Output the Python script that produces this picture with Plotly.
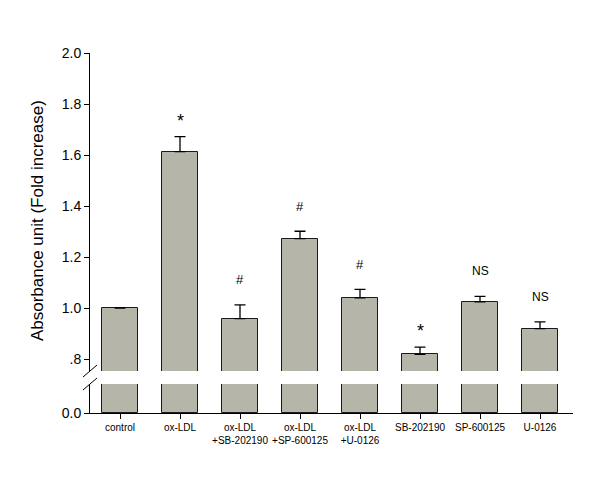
import plotly.graph_objects as go

categories = ["control", "ox-LDL", "ox-LDL<br>+SB-202190", "ox-LDL<br>+SP-600125",
              "ox-LDL<br>+U-0126", "SB-202190", "SP-600125", "U-0126"]
values = [1.0, 1.613, 0.958, 1.272, 1.040, 0.818, 1.024, 0.919]
errors = [0.0, 0.059, 0.054, 0.029, 0.033, 0.029, 0.022, 0.027]
marks = ["", "*", "#", "#", "#", "*", "NS", "NS"]
upper_ticks = [0.8, 1.0, 1.2, 1.4, 1.6, 1.8, 2.0]
upper_ticktext = [".8", "1.0", "1.2", "1.4", "1.6", "1.8", "2.0"]
y_title = "Absorbance unit (Fold increase)"

FONT = "Liberation Sans, Arial, sans-serif"
BAR_COLOR = "rgb(181,181,169)"
x = list(range(len(categories)))

fig = go.Figure()
# upper segment
fig.add_trace(go.Bar(
    x=x, y=values, xaxis="x", yaxis="y2", width=0.61,
    marker=dict(color=BAR_COLOR, line=dict(color="#1a1a1a", width=1)),
    error_y=dict(type="data", symmetric=False,
                 array=[e if e > 0 else None for e in errors],
                 arrayminus=[0 if e > 0 else None for e in errors], color="black",
                 thickness=1.3, width=5.5, visible=True),
    showlegend=False, hoverinfo="skip"))
# lower segment
fig.add_trace(go.Bar(
    x=x, y=values, xaxis="x", yaxis="y", width=0.61,
    marker=dict(color=BAR_COLOR, line=dict(color="#1a1a1a", width=1)),
    showlegend=False, hoverinfo="skip"))

lower_dom = [0, 29 / 360]
upper_dom = [42 / 360, 1]

annotations = []
for xi, v, e, m in zip(x, values, errors, marks):
    if not m:
        continue
    if m == "*":
        annotations.append(dict(x=xi, y=v + e, xref="x", yref="y2", text=m,
                                showarrow=False, yanchor="middle", yshift=16,
                                font=dict(family=FONT, size=18, color="black")))
    else:
        annotations.append(dict(x=xi, y=v + e, xref="x", yref="y2", text=m,
                                showarrow=False, yanchor="middle", yshift=25,
                                font=dict(family=FONT, size=12 if m == "NS" else 13,
                                          color="black")))

annotations.append(dict(x=-53 / 483, y=0.533, xref="paper", yref="paper",
                        text=y_title, textangle=-90, showarrow=False,
                        xanchor="center", yanchor="middle",
                        font=dict(family=FONT, size=17, color="black")))

shapes = []
for edge in (upper_dom[0], lower_dom[1]):
    shapes.append(dict(type="line", xref="paper", yref="paper",
                       xsizemode="pixel", ysizemode="pixel",
                       xanchor=0, yanchor=edge, x0=-7, x1=7, y0=-6, y1=6,
                       line=dict(color="black", width=1)))

fig.update_layout(
    width=592, height=485,
    margin=dict(l=82, r=27, t=45, b=80),
    paper_bgcolor="white", plot_bgcolor="white",
    font=dict(family=FONT, color="black"),
    bargap=0,
    xaxis=dict(range=[-0.5, 7.55], anchor="y", tickvals=x, ticktext=categories,
               showline=True, linecolor="black", linewidth=1,
               ticks="outside", ticklen=5, tickcolor="black",
               tickfont=dict(size=10, family=FONT), showgrid=False,
               zeroline=False, fixedrange=True),
    yaxis=dict(domain=lower_dom, range=[0, 0.1], tickvals=[0], ticktext=["0.0"],
               showline=True, linecolor="black", linewidth=1,
               ticks="outside", ticklen=5, tickcolor="black",
               tickfont=dict(size=14, family=FONT), showgrid=False,
               zeroline=False),
    yaxis2=dict(domain=upper_dom, range=[0.753, 2.0], anchor="x",
                tickvals=upper_ticks, ticktext=upper_ticktext,
                showline=True, linecolor="black", linewidth=1,
                ticks="outside", ticklen=5, tickcolor="black",
                tickfont=dict(size=14, family=FONT), showgrid=False,
                zeroline=False),
    annotations=annotations,
    shapes=shapes,
)

fig.write_html("out.html")
